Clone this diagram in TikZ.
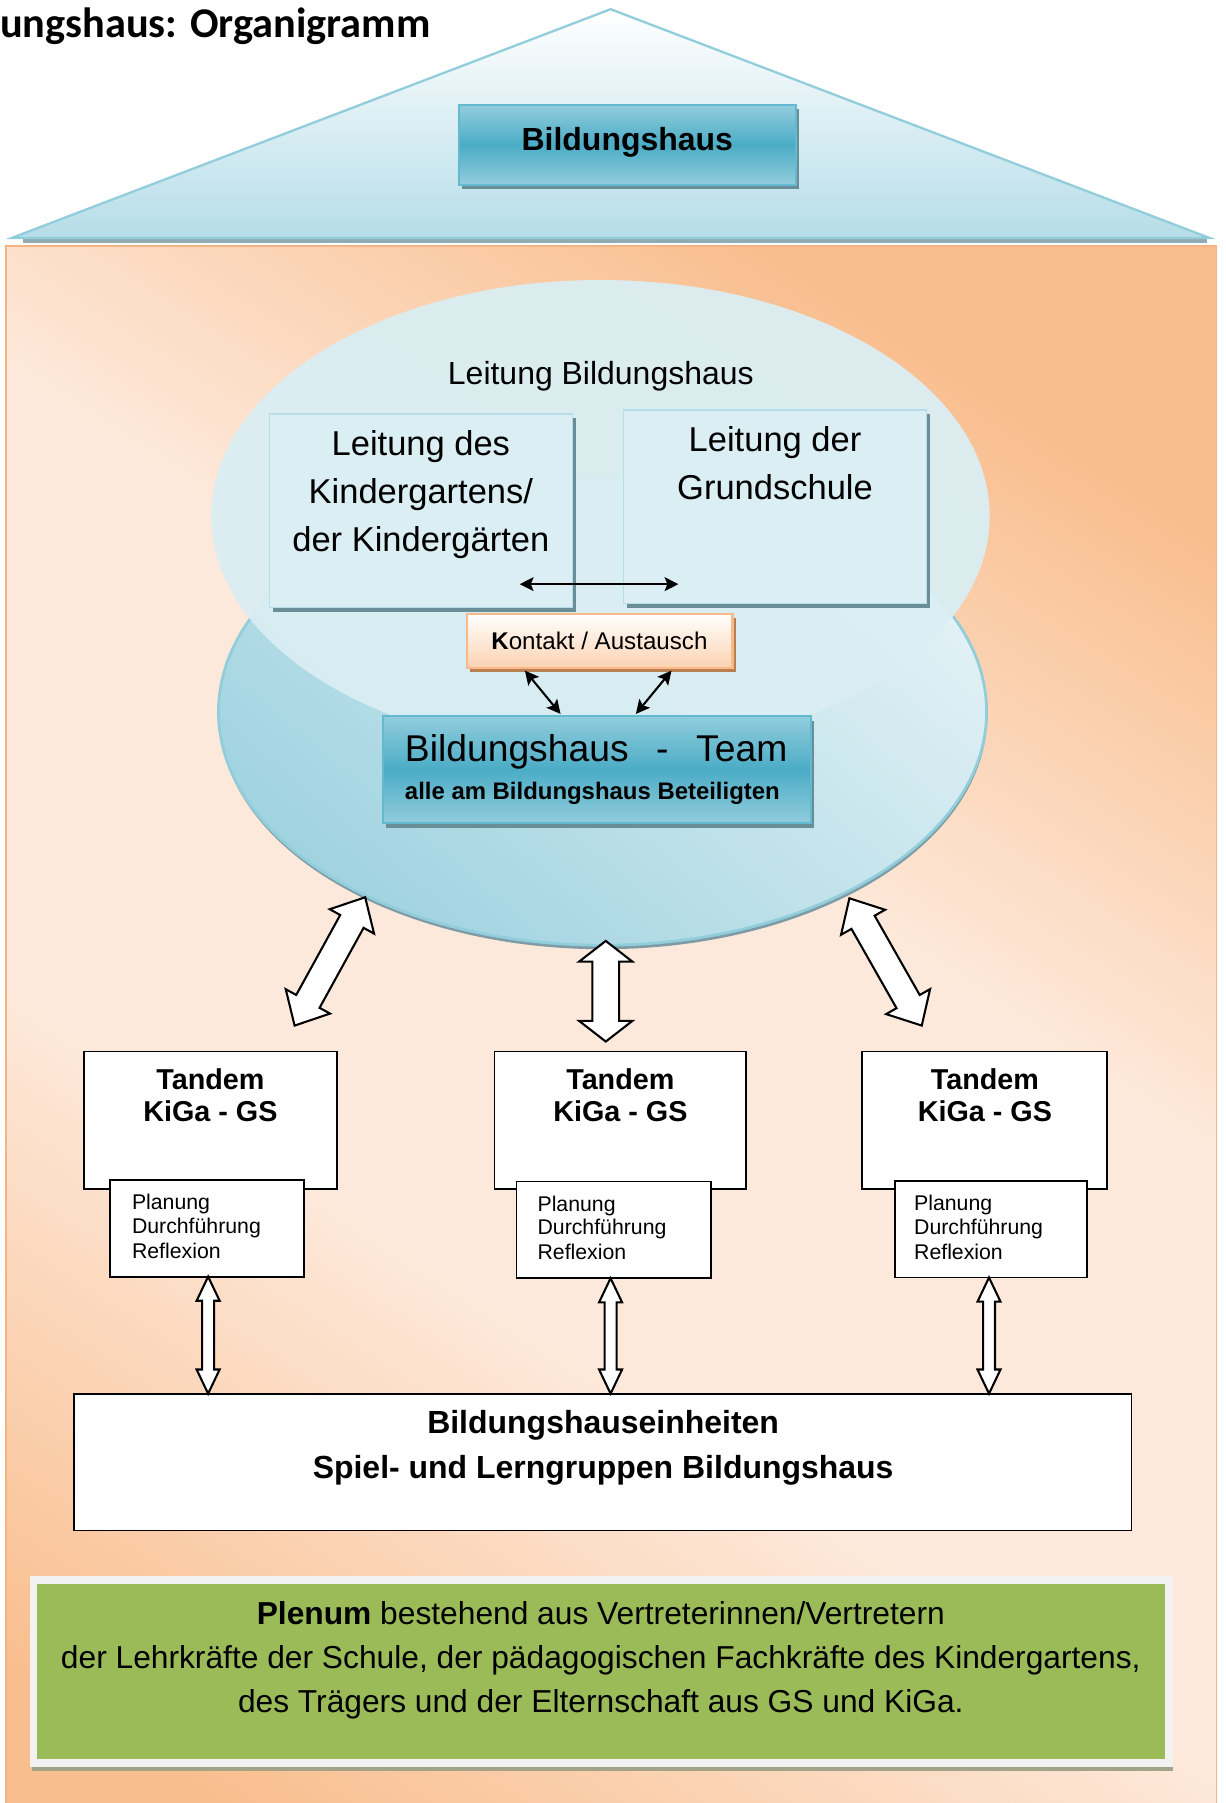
\documentclass[tikz,border=0pt]{standalone}
\usepackage{fontspec}
\setmainfont{Liberation Sans}
\newfontfamily\titlefont{Carlito}
\usetikzlibrary{calc,shadows,arrows.meta}
\definecolor{bhblue}{HTML}{4BACC6}
\definecolor{bhlight}{HTML}{92CDDC}
\definecolor{bhmid}{HTML}{B6DDE8}
\definecolor{bhpale}{HTML}{DAEEF3}
\definecolor{bhborder}{HTML}{63BAD0}
\definecolor{blueshadow}{HTML}{6A8E98}
\definecolor{orlight}{HTML}{FDE9DB}
\definecolor{ordark}{HTML}{F9BE8E}
\definecolor{orline}{HTML}{F5B384}
\definecolor{orpeach}{HTML}{FBD2B0}
\definecolor{orboxline}{HTML}{F9B98A}
\definecolor{orshadow}{HTML}{B9804F}
\definecolor{plgreen}{HTML}{9BBB59}
\definecolor{plframe}{HTML}{F2F2F2}
\definecolor{plshadow}{HTML}{A3A38A}
\definecolor{ellshadow}{HTML}{7E9CA5}
\definecolor{elldark}{HTML}{A0D3E0}
\definecolor{elllight}{HTML}{E2F1F5}

\pgfdeclareverticalshading{housebg}{100bp}{color(0bp)=(ordark); color(20bp)=(ordark); color(40bp)=(orlight); color(58bp)=(orlight); color(76bp)=(ordark); color(100bp)=(ordark)}

% #1 style, #2 from, #3 to, #4 head length, #5 head half width, #6 shaft half width
\newcommand\dblockarrow[6]{%
  \draw[#1] (#2)
   -- ($(#2)!#4!(#3)!#5!90:(#3)$)
   -- ($(#2)!#4!(#3)!#6!90:(#3)$)
   -- ($(#3)!#4!(#2)!#6!-90:(#2)$)
   -- ($(#3)!#4!(#2)!#5!-90:(#2)$)
   -- (#3)
   -- ($(#3)!#4!(#2)!#5!90:(#2)$)
   -- ($(#3)!#4!(#2)!#6!90:(#2)$)
   -- ($(#2)!#4!(#3)!#6!-90:(#3)$)
   -- ($(#2)!#4!(#3)!#5!-90:(#3)$)
   -- cycle;}

\begin{document}
\begin{tikzpicture}[x=0.5pt,y=-0.5pt,
  every node/.style={inner sep=0pt, outer sep=0pt},
  bluebox/.style={draw=bhborder, line width=1pt, top color=bhlight, bottom color=bhlight, middle color=bhblue,
    drop shadow={shadow xshift=1.4pt, shadow yshift=-2pt, fill=blueshadow, opacity=1}},
  palebox/.style={draw=bhmid, line width=0.5pt, fill=bhpale,
    drop shadow={shadow xshift=1.5pt, shadow yshift=-1.9pt, fill=blueshadow, opacity=1}},
  orbox/.style={draw=orboxline, line width=1pt, top color=white, bottom color=orpeach,
    drop shadow={shadow xshift=1.5pt, shadow yshift=-1.6pt, fill=orshadow, opacity=1}},
  whitebox/.style={draw=black, line width=0.8pt, fill=white},
  thinarrow/.style={line width=0.9pt, {Stealth[length=6pt,width=6pt,inset=1.2pt]}-{Stealth[length=6pt,width=6pt,inset=1.2pt]}},
  blockarr/.style={draw=black, line width=0.9pt, fill=white, line join=miter},
  arial/.style={font=\fontsize{#1}{#1}\selectfont},
  arialb/.style={font=\bfseries\fontsize{#1}{#1}\selectfont},
]
\useasboundingbox (0,0) rectangle (1066,1568);

% house body
\shade[shading=housebg, shading angle=-33] (5,214) rectangle (1058,1590);
\draw[orline, line width=0.7pt] (5,1590) -- (5,214) -- (1058,214) -- (1058,1590);

% roof
\fill[ellshadow!85] (20,207) rectangle (1050,211);
\shade[top color=white, bottom color=bhmid] (531,8) -- (1052,207) -- (10,207) -- cycle;
\draw[bhlight, line width=1pt, line join=miter] (531,8) -- (1052,207) -- (10,207) -- cycle;

% title
\node[anchor=base west, font=\titlefont\bfseries\fontsize{18.4}{21}\selectfont] (title) at (0,33) {ungshaus: Organigramm};

% top box
\node[bluebox, minimum width=146.5pt, minimum height=34.8pt] (bh) at (545.5,126) {};
\node[anchor=base, arialb=13.9] (bhtext) at (545.5,130.5) {Bildungshaus};

% ellipses
\fill[ellshadow] (524.5,622.5) ellipse [x radius=334, y radius=203];
\shade[top color=elllight, bottom color=elldark, shading angle=-40] (524,619) ellipse [x radius=334, y radius=203];
\draw[bhlight, line width=1.2pt] (524,619) ellipse [x radius=334, y radius=203];
\fill[bhpale, fill opacity=0.95] (522.2,448.8) ellipse [x radius=338.5, y radius=205.3];

\node[anchor=base, arial=13.9] (lbh) at (522.5,334.2) {Leitung Bildungshaus};

% Leitung boxes
\node[palebox, minimum width=131.5pt, minimum height=84pt] (lkiga) at (366.2,444) {};
\node[anchor=base, arial=15] (lkiga1) at (366,395.7) {Leitung des};
\node[anchor=base, arial=15] (lkiga2) at (366,437.7) {Kindergartens/};
\node[anchor=base, arial=15] (lkiga3) at (366,479.7) {der Kindergärten};

\node[palebox, minimum width=131.75pt, minimum height=84.3pt] (lgs) at (674,440.9) {};
\node[anchor=base, arial=15] (lgs1) at (674,392.8) {Leitung der};
\node[anchor=base, arial=15] (lgs2) at (674,434.8) {Grundschule};

\coordinate (hx1) at (452,508);
\coordinate (hx2) at (590,508);
\draw[thinarrow] (hx1) -- (hx2);

% Kontakt
\node[orbox, minimum width=115.6pt, minimum height=23.6pt] (kontakt) at (521.5,557.6) {};
\node[anchor=base, arial=10.5] (kontakttext) at (521.3,564.6) {\textbf{K}ontakt / Austausch};

% Team
\node[bluebox, minimum width=186.1pt, minimum height=46.7pt] (team) at (518.9,669.3) {};
\node[anchor=base west, arial=16.2] (team1) at (352.2,662.3) {Bildungshaus\hspace{12pt}-\hspace{12pt}Team};
\node[anchor=base west, arialb=10.4] (team2) at (352.2,695.7) {alle am Bildungshaus Beteiligten};

\coordinate (ka1) at (456.5,583.2);
\coordinate (ka2) at (487.5,620.9);
\coordinate (kb1) at (584,583.2);
\coordinate (kb2) at (553,620.9);
\draw[thinarrow] (ka1) -- (ka2);
\draw[thinarrow] (kb1) -- (kb2);

% big block arrows
\coordinate (la1) at (317.6,780.3);
\coordinate (la2) at (256.2,891.9);
\coordinate (ma1) at (526.8,818.3);
\coordinate (ma2) at (526.8,905.8);
\coordinate (ra1) at (738.7,781.2);
\coordinate (ra2) at (801.6,891.9);
\dblockarrow{blockarr}{la1}{la2}{12pt}{11pt}{5.8pt}
\dblockarrow{blockarr}{ma1}{ma2}{9pt}{11.6pt}{5.8pt}
\dblockarrow{blockarr}{ra1}{ra2}{12pt}{11pt}{5.8pt}

% Tandems
\node[whitebox, minimum width=109.85pt, minimum height=59.85pt] (t1) at (182.95,974.35) {};
\node[whitebox, minimum width=109.5pt, minimum height=59.85pt] (t2) at (539.5,974.35) {};
\node[whitebox, minimum width=106.5pt, minimum height=59.85pt] (t3) at (856.5,974.35) {};
\node[anchor=base, arialb=12.5] (t1a) at (183,947.2) {Tandem};
\node[anchor=base, arialb=12.5] (t1b) at (183,975.4) {KiGa - GS};
\node[anchor=base, arialb=12.5] (t2a) at (539.5,947.2) {Tandem};
\node[anchor=base, arialb=12.5] (t2b) at (539.5,975.4) {KiGa - GS};
\node[anchor=base, arialb=12.5] (t3a) at (856.5,947.2) {Tandem};
\node[anchor=base, arialb=12.5] (t3b) at (856.5,975.4) {KiGa - GS};

\node[whitebox, minimum width=84.5pt, minimum height=42.1pt] (s1) at (180,1068.1) {};
\node[whitebox, minimum width=84.4pt, minimum height=42.05pt] (s2) at (533.6,1069.55) {};
\node[whitebox, minimum width=83.5pt, minimum height=42pt] (s3) at (861.5,1069) {};
\node[anchor=base west, arial=9.25] (s1a) at (114.8,1052) {Planung};
\node[anchor=base west, arial=9.25] (s1b) at (114.8,1072.5) {Durchführung};
\node[anchor=base west, arial=9.25] (s1c) at (114.8,1094.2) {Reflexion};
\node[anchor=base west, arial=9.25] (s2a) at (467.5,1053.5) {Planung};
\node[anchor=base west, arial=9.25] (s2b) at (467.5,1074) {Durchführung};
\node[anchor=base west, arial=9.25] (s2c) at (467.5,1095.7) {Reflexion};
\node[anchor=base west, arial=9.25] (s3a) at (795,1053) {Planung};
\node[anchor=base west, arial=9.25] (s3b) at (795,1073.5) {Durchführung};
\node[anchor=base west, arial=9.25] (s3c) at (795,1095.2) {Reflexion};

% units
\node[whitebox, minimum width=460pt, minimum height=59.5pt] (units) at (524,1271.5) {};
\node[anchor=base, arialb=13.9] (units1) at (524.5,1247) {Bildungshauseinheiten};
\node[anchor=base, arialb=13.9] (units2) at (524.5,1286) {Spiel- und Lerngruppen Bildungshaus};

\coordinate (v1a) at ([xshift=0.5pt]s1.south);
\coordinate (v1b) at (v1a |- units.north);
\coordinate (v2a) at ([xshift=-1.3pt]s2.south);
\coordinate (v2b) at (v2a |- units.north);
\coordinate (v3a) at ([xshift=-0.7pt]s3.south);
\coordinate (v3b) at (v3a |- units.north);
\dblockarrow{blockarr}{v1a}{v1b}{10.5pt}{5pt}{2.6pt}
\dblockarrow{blockarr}{v2a}{v2b}{10.5pt}{5pt}{2.6pt}
\dblockarrow{blockarr}{v3a}{v3b}{10.5pt}{5pt}{2.6pt}

% Plenum
\fill[plshadow] (28,1536.8) rectangle (1020,1540.5);
\node[fill=plframe, minimum width=497pt, minimum height=82.9pt] (plframe) at (522.8,1453.9) {};
\node[fill=plgreen, minimum width=490.2pt, minimum height=75.95pt] (plenum) at (522.8,1453.35) {};
\node[anchor=base, arial=13.8] (pl1) at (522.5,1413) {\textbf{Plenum} bestehend aus Vertreterinnen/Vertretern};
\node[anchor=base, arial=13.8] (pl2) at (522.5,1451) {der Lehrkräfte der Schule, der pädagogischen Fachkräfte des Kindergartens,};
\node[anchor=base, arial=13.8] (pl3) at (522.5,1489) {des Trägers und der Elternschaft aus GS und KiGa.};
\end{tikzpicture}
\end{document}
